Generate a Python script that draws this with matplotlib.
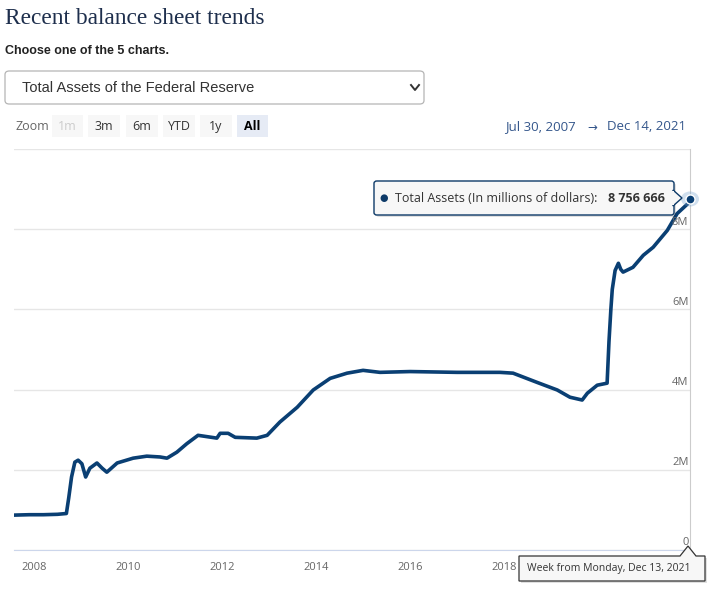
import matplotlib
matplotlib.use('agg')
import matplotlib.pyplot as plt
from matplotlib.patches import FancyBboxPatch, Rectangle, Polygon, Circle

# weekly total assets (decimal year, millions of dollars)
years = [2007.58, 2007.9, 2008.2, 2008.5, 2008.69, 2008.74, 2008.8, 2008.87, 2008.94,
         2009.02, 2009.1, 2009.19, 2009.34, 2009.45, 2009.55, 2009.77, 2010.11, 2010.4,
         2010.68, 2010.83, 2011.04, 2011.25, 2011.49, 2011.89, 2011.96, 2012.13, 2012.28,
         2012.74, 2012.96, 2013.23, 2013.6, 2013.94, 2014.3, 2014.66, 2015.0, 2015.36,
         2016.0, 2016.5, 2017.0, 2017.49, 2017.91, 2018.19, 2018.7, 2019.13, 2019.4,
         2019.66, 2019.77, 2019.98, 2020.19, 2020.23, 2020.27, 2020.3, 2020.36, 2020.43,
         2020.48, 2020.53, 2020.74, 2020.96, 2021.17, 2021.47, 2021.68, 2021.91, 2021.96]
assets = [870000, 880000, 880000, 890000, 910000, 1300000, 1820000, 2190000, 2240000,
          2150000, 1820000, 2040000, 2170000, 2040000, 1940000, 2170000, 2290000, 2340000,
          2320000, 2290000, 2440000, 2650000, 2860000, 2790000, 2910000, 2910000, 2810000,
          2790000, 2860000, 3190000, 3560000, 3990000, 4280000, 4410000, 4480000, 4430000,
          4450000, 4440000, 4430000, 4430000, 4430000, 4410000, 4180000, 3990000, 3810000,
          3740000, 3910000, 4110000, 4160000, 5200000, 6000000, 6500000, 6970000, 7150000,
          7000000, 6930000, 7050000, 7350000, 7550000, 7970000, 8390000, 8640000, 8756666]
x_ticks = [2008, 2010, 2012, 2014, 2016, 2018]
y_ticks = [0, 2000000, 4000000, 6000000, 8000000, 10000000]
zoom_buttons = ['1m', '3m', '6m', 'YTD', '1y', 'All']

W, H = 707, 591
LINE = '#0a3f73'
NAVY = '#0d3a68'

def px(x, y):
    return x / W, 1 - y / H

fig = plt.figure(figsize=(W / 100, H / 100), dpi=100)

# header
fig.text(*px(5, 18), 'Recent balance sheet trends', family='Liberation Serif',
         fontsize=16.8, color='#1e2f4d', va='center')
fig.text(*px(5, 51), 'Choose one of the 5 charts.', family='Liberation Sans',
         fontsize=9, weight='bold', color='#222222', va='center')

# dropdown
x0, y0 = px(5, 104)
x1, y1 = px(424, 71)
fig.patches.append(FancyBboxPatch((x0, y0), x1 - x0, y1 - y0,
                                  boxstyle='round,pad=0,rounding_size=0.006',
                                  transform=fig.transFigure, facecolor='white',
                                  edgecolor='#b5b5b5', lw=0.9))
fig.text(*px(22, 88), 'Total Assets of the Federal Reserve', family='Liberation Sans',
         fontsize=10.5, color='#333333', va='center')
chev = [px(411, 85), px(415, 90), px(419, 85)]
fig.lines.append(plt.Line2D([c[0] for c in chev], [c[1] for c in chev],
                            transform=fig.transFigure, color='#333333', lw=1.4))

# zoom buttons
fig.text(*px(15, 127), 'Zoom', family='Open Sans', fontsize=9, color='#666666', va='center')
btn_x = [52, 88, 126, 163, 200, 237]
btn_w = [31, 32, 32, 32, 32, 31]
for lbl, bx, bw in zip(zoom_buttons, btn_x, btn_w):
    bx0, by0 = px(bx, 137)
    bx1, by1 = px(bx + bw, 115)
    active = lbl == 'All'
    fig.patches.append(Rectangle((bx0, by0), bx1 - bx0, by1 - by0, transform=fig.transFigure,
                                 facecolor='#e6ebf5' if active else '#f7f7f7', edgecolor='none'))
    col = '#cccccc' if lbl == '1m' else ('#000000' if active else '#333333')
    fig.text(*px(bx + bw / 2, 127), lbl, family='Open Sans', fontsize=9, color=col,
             weight='bold' if active else 'normal', ha='center', va='center')

# date range
fig.text(*px(505, 127), 'Jul 30, 2007', family='Open Sans', fontsize=9.5, color='#34568b', va='center')
fig.text(*px(592, 127), '→', family='DejaVu Sans', fontsize=8.5, color='#34568b', va='center', ha='center')
fig.text(*px(686, 127), 'Dec 14, 2021', family='Open Sans', fontsize=9.5, color='#34568b',
         va='center', ha='right')

# chart
l, b = px(14, 550)
r, t = px(690, 149)
ax = fig.add_axes([l, b, r - l, t - b])
ax.plot(years, assets, color=LINE, lw=2.6, solid_joinstyle='round', zorder=3)
ax.set_xlim(2007.576, 2021.953)
ax.set_ylim(0, 10000000)
for s in ['top', 'left']:
    ax.spines[s].set_visible(False)
ax.spines['bottom'].set_color('#ccd6eb')
ax.spines['right'].set_color('#cccccc')
ax.set_yticks(y_ticks)
ax.grid(axis='y', color='#e6e6e6', lw=1)
ax.tick_params(axis='y', length=0, labelleft=False, labelright=False)
for v in y_ticks[:-1]:
    ax.text(2021.92, v + 40000, '{:.0f}M'.format(v / 1e6) if v else '0', ha='right',
            va='bottom', family='Open Sans', fontsize=8, color='#666666')
ax.set_xticks(x_ticks)
ax.set_xticklabels([str(v) for v in x_ticks], family='Open Sans', fontsize=8, color='#666666')
ax.tick_params(axis='x', length=0, pad=9)

# hover marker
ax.add_patch(Circle(px(690, 199), 9 / W, transform=fig.transFigure, facecolor='#7aa6d1',
                    alpha=0.35, edgecolor='none', clip_on=False, zorder=4))
ax.plot(years[-1], assets[-1], 'o', ms=6.5, color=LINE, mec='white', mew=1, clip_on=False, zorder=5)

# value tooltip
tx0, ty0 = px(374, 215)
tx1, ty1 = px(674, 181)
fig.patches.append(FancyBboxPatch((tx0 + 2 / W, ty0 - 2 / H), tx1 - tx0, ty1 - ty0,
                                  boxstyle='round,pad=0,rounding_size=0.004',
                                  transform=fig.transFigure, facecolor='#000000', alpha=0.12,
                                  edgecolor='none', zorder=6))
fig.patches.append(FancyBboxPatch((tx0, ty0), tx1 - tx0, ty1 - ty0,
                                  boxstyle='round,pad=0,rounding_size=0.004',
                                  transform=fig.transFigure, facecolor='#f7f7f7',
                                  edgecolor=NAVY, lw=1, zorder=7))
fig.patches.append(Polygon([px(673, 190), px(682, 198), px(673, 206)], closed=True,
                           transform=fig.transFigure, facecolor='#f7f7f7', edgecolor=NAVY,
                           lw=1, zorder=7))
fig.patches.append(Rectangle(px(672, 205), 2 / W, 14 / H, transform=fig.transFigure,
                             facecolor='#f7f7f7', edgecolor='none', zorder=8))
fig.text(*px(384, 198), '●', family='DejaVu Sans', fontsize=7, color=NAVY,
         ha='center', va='center', zorder=9)
fig.text(*px(395, 198), 'Total Assets (In millions of dollars): ', family='Open Sans',
         fontsize=9, color='#333333', va='center', zorder=9)
fig.text(*px(665, 198), '8 756 666', family='Open Sans', fontsize=9, weight='bold',
         color='#333333', va='center', ha='right', zorder=9)

# date tooltip
dx0, dy0 = px(519, 581)
dx1, dy1 = px(705, 556)
fig.patches.append(Rectangle((dx0 + 2 / W, dy0 - 2 / H), dx1 - dx0, dy1 - dy0,
                             transform=fig.transFigure, facecolor='#000000', alpha=0.12,
                             edgecolor='none', zorder=6))
fig.patches.append(Polygon([px(519, 556), px(680, 556), px(688, 546), px(696, 556),
                            px(705, 556), px(705, 581), px(519, 581)], closed=True,
                           transform=fig.transFigure, facecolor='#f7f7f7', edgecolor='#333333',
                           lw=0.9, zorder=7))
fig.text(*px(527, 569), 'Week from Monday, Dec 13, 2021', family='Open Sans', fontsize=7.5,
         color='#333333', va='center', zorder=9)

fig.savefig('out.png', dpi=100)
